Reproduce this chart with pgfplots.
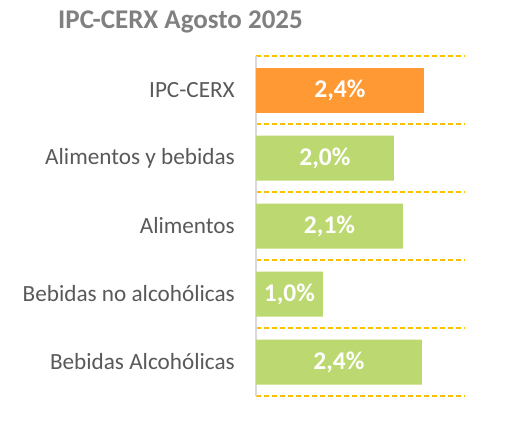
\documentclass[border=0pt]{standalone}
\usepackage{pgfplots}
\pgfplotsset{compat=1.18}
\usepackage{fontspec}
\setmainfont{Carlito}
\definecolor{barorange}{RGB}{255,153,51}
\definecolor{bargreen}{RGB}{187,217,112}
\definecolor{gridgold}{RGB}{255,192,0}
\definecolor{labgray}{RGB}{89,89,89}
\definecolor{titlegray}{RGB}{128,128,128}
\definecolor{axgray}{RGB}{217,217,217}
\begin{document}
\begin{tikzpicture}[x=1pt,y=1pt]
\begin{axis}[
  at={(256pt,24pt)}, anchor=south west,
  scale only axis, width=209pt, height=340pt,
  xmin=0, xmax=3, ymin=-0.5, ymax=4.5,
  y dir=reverse,
  axis x line=none,
  axis y line*=left,
  y axis line style={draw=axgray, line width=2pt, -},
  ytick={0,1,2,3,4},
  yticklabels={IPC-CERX, Alimentos y bebidas, Alimentos, Bebidas no alcohólicas\hspace{4pt}, Bebidas Alcohólicas},
  yticklabel style={font=\fontsize{23.2}{26}\selectfont, text=labgray, anchor=east, inner sep=0pt, xshift=-21pt},
  major tick length=0pt,
  minor ytick={-0.5,0.5,1.5,2.5,3.5,4.5},
  minor tick length=0pt,
  yminorgrids,
  minor grid style={draw=gridgold, line width=1.8pt, dash pattern=on 5pt off 3pt},
  xbar, bar width=45pt, bar shift=0pt,
  clip=false,
]
\addplot[draw=none, fill=barorange] coordinates {(2.41,0)};
\addplot[draw=none, fill=bargreen] coordinates {(1.98,1) (2.11,2) (0.96,3) (2.38,4)};
\addplot[xbar=0pt, draw=none, fill=none, forget plot,
  nodes near coords, point meta=explicit symbolic,
  nodes near coords style={anchor=center, text=white, font=\fontsize{25.5}{28}\selectfont\bfseries}]
  coordinates {(1.205,0) [2,4\%] (0.99,1) [2,0\%] (1.055,2) [2,1\%] (0.48,3) [1,0\%] (1.19,4) [2,4\%]};
\end{axis}
\node[anchor=base west, inner sep=0pt, text=titlegray, font=\fontsize{27}{30}\selectfont\bfseries] at (58pt,391pt) {IPC-CERX Agosto 2025};
\pgfresetboundingbox
\path (0,0) rectangle (532pt,420pt);
\end{tikzpicture}
\end{document}
